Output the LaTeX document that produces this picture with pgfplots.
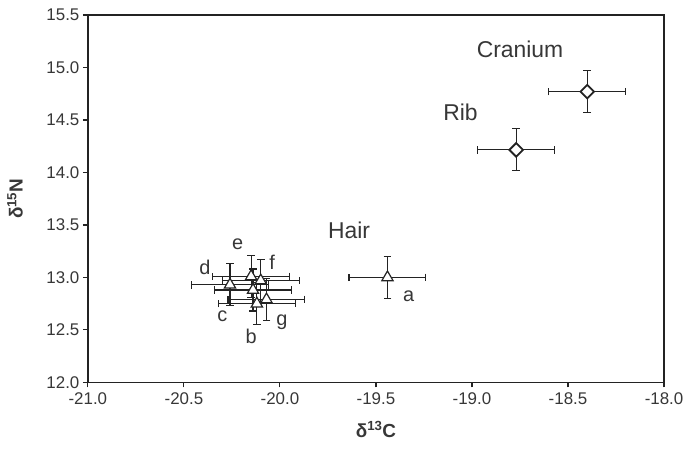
\documentclass[border=0pt]{standalone}
\usepackage{fontspec}
\setmainfont{Liberation Sans}
\usepackage{pgfplots}
\pgfplotsset{compat=1.18}
\definecolor{ink}{RGB}{35,35,35}
\definecolor{txt}{RGB}{55,55,55}
\begin{document}
\begin{tikzpicture}
\begin{axis}[
  scale only axis, width=577bp, height=368bp,
  xmin=-21, xmax=-18, ymin=12, ymax=15.5,
  xtick={-21,-20.5,...,-18}, ytick={12,12.5,...,15.5},
  /pgf/number format/assume math mode=true,
  /pgf/number format/.cd, fixed, fixed zerofill, precision=1, /pgfplots/.cd,
  tick align=outside, tick pos=left, major tick length=5bp,
  axis line style={ink, line width=1.6bp}, every tick/.style={ink, line width=1.1bp},
  tick label style={font=\fontsize{17}{19}\selectfont, text=txt},
  xticklabel style={yshift=-2bp},
  xlabel={\textbf{δ\textsuperscript{13}C}}, ylabel={\textbf{δ\textsuperscript{15}N}},
  every axis x label/.style={at={(axis description cs:0.5,0)}, yshift=-47bp, anchor=center, font=\fontsize{19}{21}\selectfont, text=txt},
  every axis y label/.style={at={(axis description cs:0,0.5)}, xshift=-73bp, rotate=90, anchor=center, font=\fontsize{19}{21}\selectfont, text=txt},
  clip=false,
  error bars/error bar style={ink, line width=1.2bp},
  error bars/error mark options={rotate=90, mark size=3.8bp, line width=1.2bp, ink},
]
\addplot[only marks, mark=triangle*, mark size=6.5bp, mark options={fill=white, draw=ink, line width=1.2bp},
  error bars/.cd, x dir=both, x explicit, y dir=both, y explicit]
coordinates {
(-19.44,13.00) +- (0.20,0.20)
(-20.26,12.93) +- (0.20,0.20)
(-20.15,13.01) +- (0.20,0.20)
(-20.10,12.97) +- (0.20,0.20)
(-20.14,12.88) +- (0.20,0.20)
(-20.12,12.75) +- (0.20,0.20)
(-20.07,12.79) +- (0.20,0.20)
};
\addplot[only marks, mark=square*, mark size=4.8bp, mark options={rotate=45, fill=white, draw=ink, line width=1.8bp},
  error bars/.cd, x dir=both, x explicit, y dir=both, y explicit]
coordinates {
(-18.40,14.77) +- (0.20,0.20)
(-18.77,14.215) +- (0.20,0.20)
};
\begin{scope}[every node/.style={font=\fontsize{23}{25}\selectfont, text=txt}]
\node at (axis cs:-18.75,15.17) {Cranium};
\node at (axis cs:-19.06,14.57) {Rib};
\node at (axis cs:-19.64,13.45) {Hair};
\end{scope}
\begin{scope}[every node/.style={font=\fontsize{20}{22}\selectfont, text=txt}]
\node at (axis cs:-19.33,12.82) {a};
\node at (axis cs:-20.22,13.32) {e};
\node at (axis cs:-20.39,13.10) {d};
\node at (axis cs:-20.04,13.14) {f};
\node at (axis cs:-20.30,12.63) {c};
\node at (axis cs:-20.15,12.44) {b};
\node at (axis cs:-19.99,12.57) {g};
\end{scope}
\end{axis}
\pgfresetboundingbox
\path ([xshift=-88bp,yshift=-70bp]current axis.south west) rectangle ([xshift=19bp,yshift=15bp]current axis.north east);
\end{tikzpicture}
\end{document}
